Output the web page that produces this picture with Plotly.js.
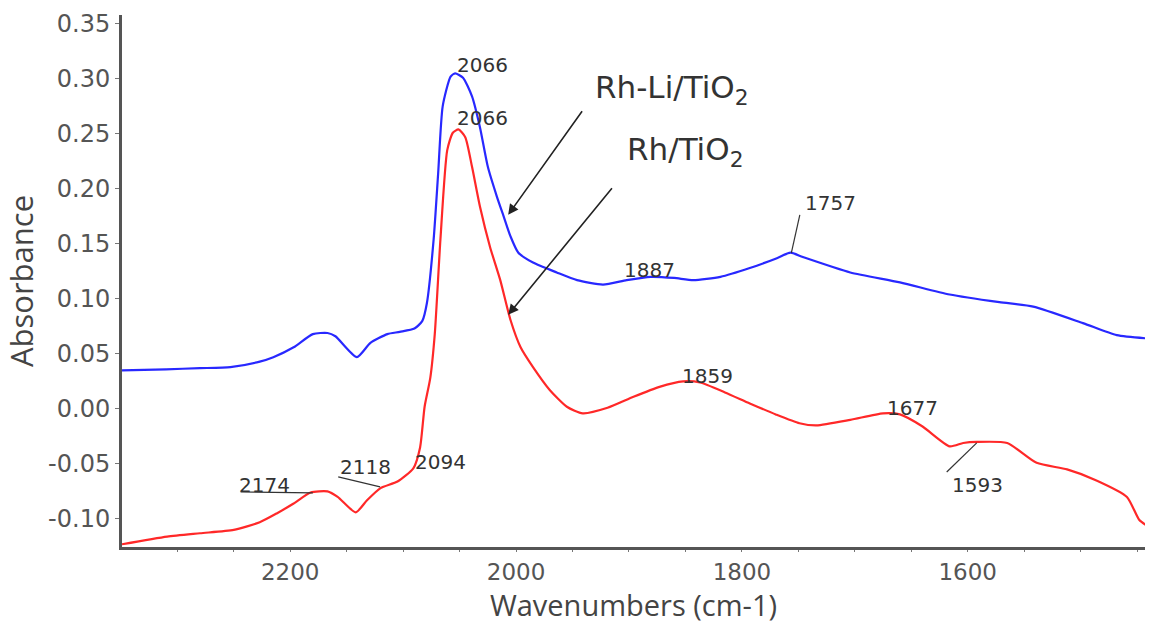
<!DOCTYPE html>
<html>
<head>
<meta charset="utf-8">
<script src="https://cdn.plot.ly/plotly-3.0.1.min.js"></script>
<style>html,body{margin:0;padding:0;background:#fff;}#chart{width:1149px;height:624px;}</style>
</head>
<body>
<div id="chart"></div>
<script>
// Rh-Li/TiO2 spectrum (blue)
const rhliWavenumbers = [2349, 2310, 2280, 2253, 2227, 2215, 2197, 2180, 2167, 2160, 2141, 2129, 2114, 2103, 2090, 2083, 2079, 2073, 2069, 2065, 2058, 2054, 2047, 2039, 2032, 2025, 2017, 2011, 2005, 1998, 1985, 1964, 1946, 1923, 1902, 1881, 1860, 1843, 1819, 1793, 1769, 1757, 1746, 1704, 1660, 1616, 1572, 1542, 1498, 1468, 1440];
const rhliAbsorbance = [0.035, 0.036, 0.037, 0.038, 0.043, 0.047, 0.056, 0.068, 0.069, 0.066, 0.047, 0.060, 0.068, 0.070, 0.073, 0.080, 0.096, 0.154, 0.214, 0.275, 0.302, 0.305, 0.301, 0.284, 0.256, 0.220, 0.193, 0.175, 0.157, 0.142, 0.133, 0.124, 0.117, 0.113, 0.117, 0.120, 0.119, 0.117, 0.120, 0.128, 0.137, 0.142, 0.138, 0.124, 0.115, 0.104, 0.097, 0.093, 0.078, 0.067, 0.064];

// Rh/TiO2 spectrum (red)
const rhWavenumbers = [2349, 2309, 2280, 2250, 2227, 2212, 2197, 2182, 2167, 2158, 2142, 2132, 2120, 2105, 2091, 2085, 2081, 2076, 2072, 2067, 2061, 2056, 2051, 2045, 2039, 2032, 2023, 2014, 2005, 1996, 1985, 1970, 1955, 1941, 1919, 1896, 1873, 1852, 1837, 1815, 1793, 1770, 1749, 1734, 1704, 1675, 1660, 1640, 1616, 1604, 1592, 1565, 1539, 1512, 1486, 1459, 1448, 1440];
const rhAbsorbance = [-0.123, -0.116, -0.113, -0.110, -0.103, -0.095, -0.086, -0.076, -0.075, -0.080, -0.094, -0.083, -0.072, -0.066, -0.054, -0.035, 0.002, 0.028, 0.068, 0.154, 0.235, 0.251, 0.254, 0.247, 0.220, 0.184, 0.147, 0.117, 0.081, 0.056, 0.038, 0.017, 0.002, -0.004, 0.001, 0.011, 0.020, 0.025, 0.024, 0.015, 0.005, -0.005, -0.013, -0.015, -0.010, -0.004, -0.005, -0.016, -0.034, -0.031, -0.030, -0.031, -0.049, -0.055, -0.065, -0.080, -0.101, -0.107];

// Axis ticks
const xTickVals = [2200, 2000, 1800, 1600];
const yTickVals = [-0.10, -0.05, 0.00, 0.05, 0.10, 0.15, 0.20, 0.25, 0.30, 0.35];
const yTickText = ['-0.10', '-0.05', '0.00', '0.05', '0.10', '0.15', '0.20', '0.25', '0.30', '0.35'];

// Peak labels
const peakLabels = ['2066', '2066', '1887', '1757', '1859', '1677', '1593', '2174', '2118', '2094'];
const peakX = [2054, 2054, 1882, 1746, 1855, 1673, 1616, 2247, 2158, 2091];
const peakY = [0.3127, 0.2645, 0.126, 0.187, 0.030, 0.001, -0.069, -0.069, -0.0527, -0.048];
const peakAnchor = ['left', 'left', 'center', 'left', 'left', 'left', 'left', 'left', 'left', 'left'];

const seriesNames = ['Rh-Li/TiO<sub>2</sub>', 'Rh/TiO<sub>2</sub>'];

const numFont = {family: 'DejaVu Sans, sans-serif', size: 20, color: '#333'};

const annotations = peakLabels.map((t, i) => ({
  x: peakX[i], y: peakY[i], xref: 'x', yref: 'y', text: t, showarrow: false,
  xanchor: peakAnchor[i], yanchor: 'middle', font: numFont
}));

annotations.push(
  {x: 1862, y: 0.290, xref: 'x', yref: 'y', text: seriesNames[0], showarrow: false,
   font: {family: 'DejaVu Sans, sans-serif', size: 31, color: '#333'}},
  {x: 1850, y: 0.2336, xref: 'x', yref: 'y', text: seriesNames[1], showarrow: false,
   font: {family: 'DejaVu Sans, sans-serif', size: 31, color: '#333'}},
  {x: 2007, y: 0.1764, xref: 'x', yref: 'y', text: '', showarrow: true, ax: 75, ay: -105,
   arrowhead: 2, arrowsize: 1.3, arrowwidth: 1.6, arrowcolor: '#222'},
  {x: 2007, y: 0.0855, xref: 'x', yref: 'y', text: '', showarrow: true, ax: 105, ay: -128,
   arrowhead: 2, arrowsize: 1.3, arrowwidth: 1.6, arrowcolor: '#222'}
);

const leader = (x0, y0, x1, y1) => ({type: 'line', xref: 'x', yref: 'y', x0, y0, x1, y1,
  line: {color: '#333', width: 1.2}});

const shapes = [
  leader(1748.7, 0.1764, 1756.2, 0.1418),
  leader(1618.6, -0.0573, 1592, -0.0309),
  leader(2244, -0.0755, 2180, -0.0764),
  leader(2157.5, -0.0618, 2120.4, -0.0709)
];

const traces = [
  {x: rhliWavenumbers, y: rhliAbsorbance, type: 'scatter', mode: 'lines', name: 'Rh-Li/TiO2',
   line: {color: 'rgb(40,40,255)', width: 2.2, shape: 'spline', smoothing: 0.6}},
  {x: rhWavenumbers, y: rhAbsorbance, type: 'scatter', mode: 'lines', name: 'Rh/TiO2',
   line: {color: 'rgb(255,40,40)', width: 2.2, shape: 'spline', smoothing: 0.6}}
];

const layout = {
  width: 1149, height: 624,
  margin: {l: 122, r: 4, t: 15, b: 77},
  paper_bgcolor: '#fff', plot_bgcolor: '#fff',
  showlegend: false,
  xaxis: {
    range: [2349, 1443], tickvals: xTickVals, ticktext: xTickVals.map(String),
    showgrid: false, zeroline: false, showline: true, linecolor: '#555', linewidth: 3,
    ticks: 'outside', ticklen: 2, tickcolor: '#777', tickwidth: 1,
    minor: {dtick: 50, tick0: 2200, ticks: 'outside', ticklen: 2, tickcolor: '#777'},
    tickfont: {family: 'DejaVu Sans, sans-serif', size: 23, color: '#555'},
    title: {text: 'Wavenumbers (cm-1)', standoff: 14,
            font: {family: 'Open Sans, sans-serif', size: 29, color: '#444'}}
  },
  yaxis: {
    range: [-0.1255, 0.358], tickvals: yTickVals, ticktext: yTickText,
    showgrid: false, zeroline: false, showline: true, linecolor: '#555', linewidth: 3,
    ticks: 'outside', ticklen: 4, tickcolor: '#777', tickwidth: 1,
    tickfont: {family: 'DejaVu Sans, sans-serif', size: 24, color: '#555'},
    title: {text: 'Absorbance', standoff: 8,
            font: {family: 'Open Sans, sans-serif', size: 31, color: '#444'}}
  },
  annotations: annotations,
  shapes: shapes
};

Plotly.newPlot('chart', traces, layout, {displayModeBar: false, staticPlot: true});
</script>
</body>
</html>
